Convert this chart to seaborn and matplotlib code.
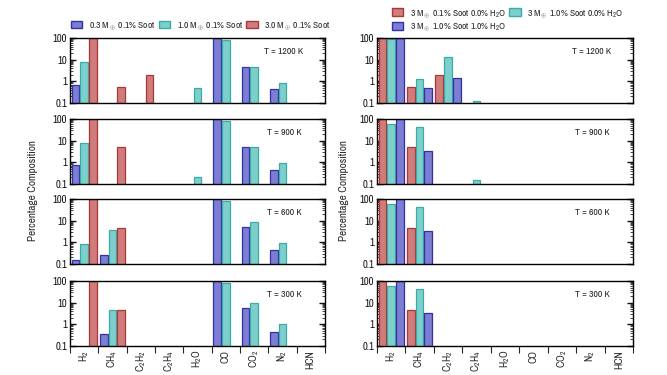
import numpy as np
import pandas as pd
import matplotlib
matplotlib.use("Agg")
import matplotlib.pyplot as plt
import seaborn as sns
from matplotlib.patches import Patch
from matplotlib.colors import to_hex
from matplotlib.ticker import FixedLocator, LogLocator, NullFormatter

sns.set_theme(style="white")
plt.rcParams["font.family"] = ["Archivo Narrow", "Liberation Sans", "DejaVu Sans"]
plt.rcParams["mathtext.fontset"] = "custom"
plt.rcParams["mathtext.rm"] = "Archivo Narrow"
plt.rcParams["mathtext.it"] = "Archivo Narrow:italic"

nan = np.nan
species = ["H$_2$", "CH$_4$", "C$_2$H$_2$", "C$_2$H$_4$", "H$_2$O", "CO", "CO$_2$", "N$_2$", "HCN"]
temps = [1200, 900, 600, 300]

# left column: planet mass series at 0.1% soot
left_labels = ["0.3 M$_\\oplus$ 0.1% Soot", "1.0 M$_\\oplus$ 0.1% Soot", "3.0 M$_\\oplus$ 0.1% Soot"]
left_03 = [
    [0.65, nan, nan, nan, nan, 100, 4.7, 0.43, nan],
    [0.72, nan, nan, nan, nan, 100, 4.9, 0.46, nan],
    [0.155, 0.27, nan, nan, nan, 100, 5.0, 0.45, nan],
    [nan, 0.37, nan, nan, nan, 100, 5.4, 0.46, nan],
]
left_10 = [
    [7.5, nan, nan, nan, 0.5, 84, 4.4, 0.86, nan],
    [8.0, nan, nan, nan, 0.2, 84, 4.9, 0.95, nan],
    [0.85, 3.8, nan, nan, nan, 84, 8.6, 0.93, nan],
    [nan, 4.5, nan, nan, nan, 84, 9.8, 1.0, nan],
]
left_30 = [
    [100, 0.55, 1.95, nan, nan, nan, nan, nan, nan],
    [100, 4.9, nan, nan, nan, nan, nan, nan, nan],
    [100, 4.7, nan, nan, nan, nan, nan, nan, nan],
    [100, 4.8, nan, nan, nan, nan, nan, nan, nan],
]

# right column: 3 M_earth with soot / water variations
right_labels = ["3 M$_\\oplus$ 0.1% Soot 0.0% H$_2$O", "3 M$_\\oplus$ 1.0% Soot 0.0% H$_2$O",
                "3 M$_\\oplus$ 1.0% Soot 1.0% H$_2$O"]
right_a = [
    [100, 0.57, 2.0, nan, nan, nan, nan, nan, nan],
    [100, 4.9, nan, nan, nan, nan, nan, nan, nan],
    [100, 4.8, nan, nan, nan, nan, nan, nan, nan],
    [100, 4.8, nan, nan, nan, nan, nan, nan, nan],
]
right_b = [
    [86, 1.27, 14, 0.12, nan, nan, nan, nan, nan],
    [59, 41, nan, 0.16, nan, nan, nan, nan, nan],
    [58, 41, nan, nan, nan, nan, nan, nan, nan],
    [58, 41, nan, nan, nan, nan, nan, nan, nan],
]
right_c = [
    [100, 0.48, 1.4, nan, nan, nan, nan, nan, nan],
    [100, 3.5, nan, nan, nan, nan, nan, nan, nan],
    [100, 3.5, nan, nan, nan, nan, nan, nan, nan],
    [100, 3.5, nan, nan, nan, nan, nan, nan, nan],
]

blue = ("#7d7dd2", "#3030aa")
cyan = ("#7ccfcb", "#3aaca8")
red = ("#d07c7c", "#aa3636")

left_series = [(left_labels[0], left_03, blue), (left_labels[1], left_10, cyan), (left_labels[2], left_30, red)]
right_series = [(right_labels[0], right_a, red), (right_labels[1], right_b, cyan), (right_labels[2], right_c, blue)]

fig = plt.figure(figsize=(6.67, 3.75), dpi=100)
bottoms = [0.7253, 0.5093, 0.296, 0.0773]
h = 0.1733
fs_tick = 7.6
fs_leg = 6.8


def draw_panel(ax, series, row, last):
    rows = []
    for lab, vals, _ in series:
        for sp, v in zip(species, vals[row]):
            rows.append({"species": sp, "value": v, "series": lab})
    df = pd.DataFrame(rows).dropna()
    pal = {lab: c[0] for lab, _, c in series}
    edge_by_face = {c[0]: c[1] for _, _, c in series}
    sns.barplot(data=df, x="species", y="value", hue="series", order=species,
                hue_order=[s[0] for s in series], palette=pal, width=0.92, gap=0.12,
                errorbar=None, legend=False, ax=ax, saturation=1)
    for p in ax.patches:
        face = to_hex(p.get_facecolor()[:3])
        p.set_edgecolor(edge_by_face.get(face, "#333333"))
        p.set_linewidth(0.9)
    ax.set_yscale("log")
    ax.set_ylim(0.1, 100)
    ax.set_xlim(-0.5, 8.5)
    ax.yaxis.set_major_locator(FixedLocator([0.1, 1, 10, 100]))
    ax.set_yticklabels(["0.1", "1", "10", "100"])
    ax.yaxis.set_minor_locator(LogLocator(base=10, subs=np.arange(2, 10)))
    ax.yaxis.set_minor_formatter(NullFormatter())
    ax.tick_params(axis="y", which="major", direction="in", length=4, width=1.0,
                   left=True, right=True, labelsize=fs_tick, pad=2, colors="#111111")
    ax.tick_params(axis="y", which="minor", direction="in", length=2, width=0.6,
                   left=True, right=True)
    ax.set_xlabel("")
    ax.set_ylabel("")
    for s in ax.spines.values():
        s.set_color("black")
        s.set_linewidth(1.0)
    ax.text(0.84, 0.79, f"T = {temps[row]} K", transform=ax.transAxes,
            ha="center", va="center", fontsize=7)
    if last:
        ax.set_xticks(range(len(species)))
        ax.set_xticklabels(species, rotation=90, fontsize=fs_tick)
        ax.xaxis.set_minor_locator(FixedLocator(np.arange(-0.5, 9.0, 1.0)))
        ax.tick_params(axis="x", which="major", length=0, pad=3)
        ax.tick_params(axis="x", which="minor", direction="out", length=5, width=0.8,
                       bottom=True)
    else:
        ax.set_xticks([])


for col, (x0, w, series) in enumerate([(0.105, 0.382, left_series), (0.565, 0.384, right_series)]):
    for row in range(4):
        ax = fig.add_axes([x0, bottoms[row], w, h])
        draw_panel(ax, series, row, row == 3)

fig.text(33 / 667, 0.493, "Percentage Composition", rotation=90, ha="center", va="center", fontsize=8)
fig.text(344 / 667, 0.493, "Percentage Composition", rotation=90, ha="center", va="center", fontsize=8)

# legends
lh = [Patch(facecolor=c[0], edgecolor=c[1], label=lab) for lab, _, c in left_series]
fig.legend(handles=lh, loc="center left", bbox_to_anchor=(0.101, 1 - 26 / 375), ncol=3,
           frameon=False, fontsize=fs_leg, handlelength=1.2, handleheight=0.85,
           handletextpad=0.7, columnspacing=0.35, borderaxespad=0)
rh = [Patch(facecolor=c[0], edgecolor=c[1], label=lab) for lab, _, c in right_series]
rh = [rh[0], rh[2], rh[1]]
fig.legend(handles=rh, loc="center left", bbox_to_anchor=(0.582, 1 - 20.5 / 375), ncol=2,
           frameon=False, fontsize=fs_leg, handlelength=1.2, handleheight=0.85,
           handletextpad=0.7, columnspacing=0.3, labelspacing=0.2, borderaxespad=0)

fig.savefig("out.png", dpi=100)
